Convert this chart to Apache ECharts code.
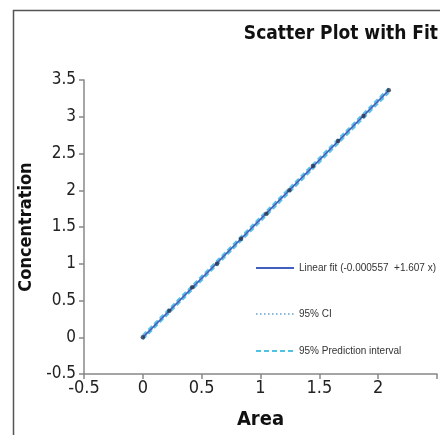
<!DOCTYPE html>
<html><head><meta charset="utf-8">
<script src="https://cdn.jsdelivr.net/npm/echarts@6/dist/echarts.min.js"></script>
<style>html,body{margin:0;padding:0;background:#fff}#c{width:440px;height:435px}</style>
</head><body><div id="c"></div>
<script>
// Data
const area = [0, 0.225, 0.42, 0.63, 0.835, 1.05, 1.245, 1.445, 1.66, 1.875, 2.09];
const conc = [0, 0.36, 0.68, 1.0, 1.34, 1.68, 2.0, 2.33, 2.67, 3.01, 3.36];
const fitArea = [0, 2.09];
const fitConc = [-0.001, 3.358];
const ciLower = [-0.015, 3.34];
const ciUpper = [0.013, 3.375];
const piLower = [-0.03, 3.325];
const piUpper = [0.028, 3.39];
const xTicks = [-0.5, 0, 0.5, 1, 1.5, 2];
const yTicks = [-0.5, 0, 0.5, 1, 1.5, 2, 2.5, 3, 3.5];
const legendNames = ['Linear fit (-0.000557  +1.607 x)', '95% CI', '95% Prediction interval'];

const NARROW = "'Liberation Sans Narrow', 'Arial Narrow', 'DejaVu Sans Condensed', sans-serif";
const pairs = (xs, ys) => xs.map((x, i) => [x, ys[i]]);

const chart = echarts.init(document.getElementById('c'));
const legendTextStyle = {fontFamily: "'Liberation Sans', Arial, sans-serif", fontSize: 10, color: '#333'};
const mkLegend = (name, top) => ({
  data: [name], left: 255, top: top, itemWidth: 38, itemHeight: 8, itemGap: 2,
  itemStyle: {opacity: 0},
  textStyle: legendTextStyle, selectedMode: false, padding: 0
});
chart.setOption({
  animation: false,
  title: {
    text: 'Scatter Plot with Fit', right: 2, top: 25, padding: 0,
    textStyle: {fontFamily: NARROW, fontWeight: 'bold', fontSize: 19, color: '#111'}
  },
  legend: [mkLegend(legendNames[0], 263), mkLegend(legendNames[1], 309), mkLegend(legendNames[2], 346)],
  graphic: [{
    type: 'rect', shape: {x: 13.5, y: 10.5, width: 600, height: 600},
    style: {fill: 'none', stroke: '#555', lineWidth: 1.5}, z: -1
  }],
  grid: {left: 84, right: 2, top: 80, bottom: 60},
  xAxis: {
    type: 'value', min: -0.5, max: 2.5, interval: 0.5,
    name: 'Area', nameLocation: 'middle', nameGap: 36,
    nameTextStyle: {fontFamily: NARROW, fontWeight: 'bold', fontSize: 20, color: '#111'},
    axisLine: {onZero: false, lineStyle: {color: '#888', width: 1.5}},
    axisTick: {length: 5, lineStyle: {color: '#888', width: 1.5}},
    splitLine: {show: false},
    axisLabel: {
      fontFamily: NARROW, fontSize: 18, color: '#222', margin: 5,
      formatter: v => xTicks.includes(+v.toFixed(2)) ? String(v) : ''
    }
  },
  yAxis: {
    type: 'value', min: -0.5, max: 3.5, interval: 0.5,
    name: 'Concentration', nameLocation: 'middle', nameGap: 43,
    nameTextStyle: {fontFamily: NARROW, fontWeight: 'bold', fontSize: 18, color: '#111'},
    axisLine: {show: true, onZero: false, lineStyle: {color: '#888', width: 1.5}},
    axisTick: {show: true, length: 5, lineStyle: {color: '#888', width: 1.5}},
    splitLine: {show: false},
    axisLabel: {
      fontFamily: NARROW, fontSize: 17, color: '#222', margin: 8,
      formatter: v => yTicks.includes(+v.toFixed(2)) ? String(v) : ''
    }
  },
  series: [
    {name: legendNames[2], type: 'line', symbol: 'none', data: pairs(fitArea, piLower),
     itemStyle: {color: '#4fc3e6'},
     lineStyle: {color: '#4fc3e6', width: 1.8, type: [5, 3]}, z: 2},
    {name: legendNames[2], type: 'line', symbol: 'none', data: pairs(fitArea, piUpper),
     itemStyle: {color: '#4fc3e6'},
     lineStyle: {color: '#4fc3e6', width: 1.8, type: [5, 3]}, z: 2},
    {name: legendNames[1], type: 'line', symbol: 'none', data: pairs(fitArea, ciLower),
     itemStyle: {color: '#8ab9de'},
     lineStyle: {color: '#8ab9de', width: 1.4, type: [1.5, 2.5]}, z: 3},
    {name: legendNames[1], type: 'line', symbol: 'none', data: pairs(fitArea, ciUpper),
     itemStyle: {color: '#8ab9de'},
     lineStyle: {color: '#8ab9de', width: 1.4, type: [1.5, 2.5]}, z: 3},
    {name: legendNames[0], type: 'line', symbol: 'none', data: pairs(fitArea, fitConc),
     itemStyle: {color: '#3f5cb8'},
     lineStyle: {color: '#3f60bf', width: 1.6}, z: 4},
    {name: 'data', type: 'scatter', data: pairs(area, conc), symbolSize: 4.5,
     itemStyle: {color: '#2d3350'}, z: 5}
  ]
});
</script></body></html>
